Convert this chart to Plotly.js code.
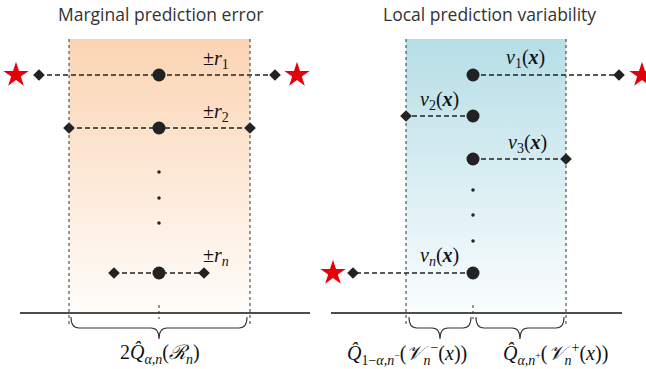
<!DOCTYPE html>
<html><head><meta charset="utf-8">
<script src="https://cdn.plot.ly/plotly-3.0.1.min.js"></script>
<style>html,body{margin:0;padding:0;background:#fff}#c{width:646px;height:369px}</style>
</head><body><div id="c"></div>
<script>
// Schematic coordinates (pixel-like units of the figure)
const panelTitles = ["Marginal prediction error", "Local prediction variability"];
const titleX = [160, 489];
// Left panel: marginal residual intervals
const leftCenter = 159;
const leftRowY = [75, 128, 273];
const leftLo = [39, 69, 114];
const leftHi = [275, 250, 204];
const leftLabels = ["±<i>r</i><sub>1</sub>", "±<i>r</i><sub>2</sub>", "±<i>r</i><sub><i>n</i></sub>"];
const leftLabelY = [59, 112, 256];
const leftStarX = [16, 297];
const leftStarY = [75, 75];
const leftEllipsisY = [172, 198, 223];
const leftBand = [69, 250];
// Right panel: local variability
const rightCenter = 473;
const rightRowY = [75, 116, 159, 273];
const rightEnd = [619, 406, 566, 353];
const rightLabels = ["<i>v</i><sub>1</sub>(<b><i>x</i></b>)", "<i>v</i><sub>2</sub>(<b><i>x</i></b>)", "<i>v</i><sub>3</sub>(<b><i>x</i></b>)", "<i>v</i><sub><i>n</i></sub>(<b><i>x</i></b>)"];
const rightLabelX = [525, 439, 527, 439];
const rightLabelY = [58, 100, 143, 256];
const rightStarX = [642, 333];
const rightStarY = [75, 273];
const rightEllipsisY = [190, 215, 241];
const rightBand = [406, 566];
// Axes / braces
const bandTop = 39, axisY = 313;
const leftAxis = [20, 310], rightAxis = [331, 622];
const braces = [[71, 247], [409, 471], [476, 564]];
const braceLabels = ["2<i>Q̂</i><sub><i>α,n</i></sub>(<i>ℛ</i><sub><i>n</i></sub>)",
  "<i>Q̂</i><sub>1−<i>α,n</i><sup>−</sup></sub>(<i>𝒱</i><sub><i>n</i></sub><sup>−</sup>(<i>x</i>))",
  "<i>Q̂</i><sub><i>α,n</i><sup>+</sup></sub>(<i>𝒱</i><sub><i>n</i></sub><sup>+</sup>(<i>x</i>))"];
const braceLabelX = [160, 407, 555];
const braceLabelY = 354;

const ink = '#222';
const traces = [];
function band(b, c0, c1){
  traces.push({x:[b[0],b[1],b[1],b[0],b[0]], y:[bandTop,bandTop,axisY,axisY,bandTop], mode:'lines', fill:'toself',
    line:{width:0}, fillgradient:{type:'vertical', colorscale:[[0,c0],[1,c1]], start:bandTop, stop:axisY}, hoverinfo:'skip'});
}
band(leftBand, '#fbd4b3', '#fffdfb');
band(rightBand, '#b6dee6', '#fbfdfe');

// dashed lines
let dx=[], dy=[];
leftRowY.forEach((y,i)=>{dx.push(leftLo[i], leftHi[i], null); dy.push(y,y,null);});
rightRowY.forEach((y,i)=>{dx.push(rightCenter, rightEnd[i], null); dy.push(y,y,null);});
traces.push({x:dx, y:dy, mode:'lines', line:{color:ink, width:1.3, dash:'5px,3px'}, hoverinfo:'skip'});
// diamonds
let mx=[], my=[];
leftRowY.forEach((y,i)=>{mx.push(leftLo[i], leftHi[i]); my.push(y,y);});
rightRowY.forEach((y,i)=>{mx.push(rightEnd[i]); my.push(y);});
traces.push({x:mx, y:my, mode:'markers', marker:{symbol:'diamond', size:9, color:ink}});
// dots
traces.push({x:leftRowY.map(()=>leftCenter).concat(rightRowY.map(()=>rightCenter)), y:leftRowY.concat(rightRowY),
  mode:'markers', marker:{size:13, color:ink}});
// ellipsis
traces.push({x:leftEllipsisY.map(()=>leftCenter).concat(rightEllipsisY.map(()=>rightCenter)), y:leftEllipsisY.concat(rightEllipsisY),
  mode:'markers', marker:{size:3.5, color:ink}});
// stars
traces.push({x:leftStarX.concat(rightStarX), y:leftStarY.concat(rightStarY), mode:'markers',
  marker:{symbol:'star', size:19, color:'#e3000b', line:{width:0}}});

const shapes = [];
[leftAxis, rightAxis].forEach(a=>shapes.push({type:'line', x0:a[0], x1:a[1], y0:axisY, y1:axisY, line:{color:'#111', width:1.6}}));
leftBand.concat(rightBand).forEach(x=>shapes.push({type:'line', x0:x, x1:x, y0:bandTop, y1:327, line:{color:'#333', width:1, dash:'dot'}}));
[leftCenter, rightCenter].forEach(x=>shapes.push({type:'line', x0:x, x1:x, y0:305, y1:319, line:{color:'#333', width:1, dash:'dot'}}));
braces.forEach(b=>{
  const x1=b[0], x2=b[1], m=(x1+x2)/2, y0=317, y1=328, y2=339, r=8;
  shapes.push({type:'path', path:`M${x1},${y0} Q${x1},${y1} ${x1+r},${y1} L${m-r},${y1} Q${m},${y1} ${m},${y2} Q${m},${y1} ${m+r},${y1} L${x2-r},${y1} Q${x2},${y1} ${x2},${y0}`,
    line:{color:'#333', width:1.1}});
});

const ann = [];
const mathFont = {family:'Liberation Serif, DejaVu Serif, serif', size:20, color:'#111'};
panelTitles.forEach((t,i)=>ann.push({x:titleX[i], y:14, text:t, showarrow:false, font:{family:'Open Sans, sans-serif', size:17.5, color:'#333'}}));
leftLabels.forEach((t,i)=>ann.push({x:216, y:leftLabelY[i], text:t, showarrow:false, font:mathFont}));
rightLabels.forEach((t,i)=>ann.push({x:rightLabelX[i], y:rightLabelY[i], text:t, showarrow:false, font:mathFont}));
braceLabels.forEach((t,i)=>ann.push({x:braceLabelX[i], y:braceLabelY, text:t, showarrow:false, font:mathFont}));

Plotly.newPlot('c', traces, {
  width:646, height:369, margin:{l:0,r:0,t:0,b:0}, showlegend:false,
  paper_bgcolor:'#fff', plot_bgcolor:'#fff',
  xaxis:{range:[0,646], visible:false, fixedrange:true},
  yaxis:{range:[369,0], visible:false, fixedrange:true},
  shapes:shapes, annotations:ann
}, {staticPlot:true});
</script></body></html>
